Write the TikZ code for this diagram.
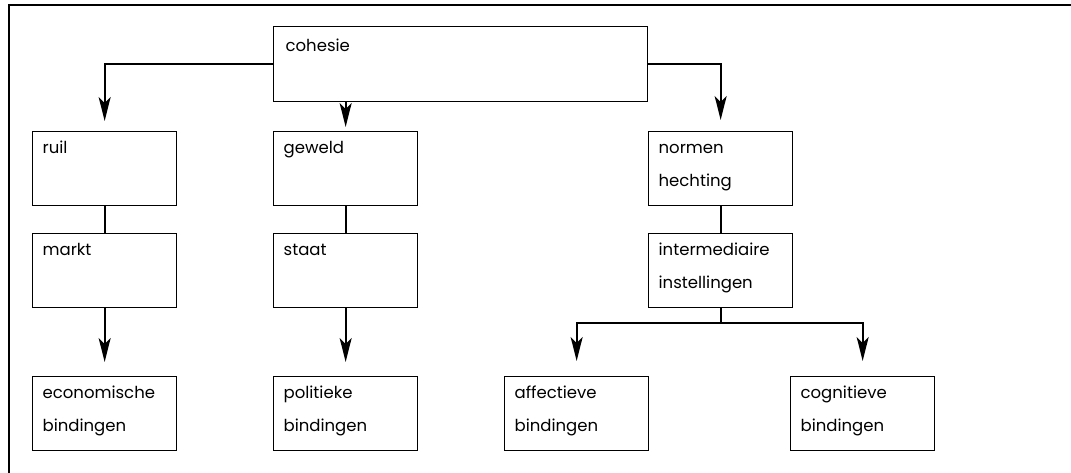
\documentclass[tikz,border=0pt]{standalone}
\usepackage{fontspec}
\setmainfont{Poppins}
\usetikzlibrary{arrows.meta}
\begin{document}
\begin{tikzpicture}
  [x=1pt,y=-1pt,
   every node/.style={draw,line width=1.3pt,anchor=north west,align=left,
     inner xsep=10pt,inner ysep=0pt,text width=124pt,
     text height=22pt,text depth=52pt,
     font=\fontsize{16.5}{33}\selectfont},
   lijn/.style={line width=2pt},
   pijl/.style={line width=2pt,-{Stealth[length=24pt,width=12pt,inset=6pt]}}]
  \useasboundingbox (0,0) rectangle (1071,473);
  \draw[lijn] (1071,5) -- (9,5) -- (9,473);

  \node (coh)[text width=350pt,inner xsep=12pt,text height=25pt,text depth=50pt] at (273,26) {cohesie};
  \node (ruil) at (32,131) {ruil};
  \node (markt) at (32,233) {markt};
  \node (econ) at (32,376) {economische\\bindingen};
  \node (geweld) at (273,131) {geweld};
  \node (staat) at (273,233) {staat};
  \node (pol) at (273,376) {politieke\\bindingen};
  \node (normen) at (648,131) {normen\\hechting};
  \node (inter) at (648,233) {intermediaire\\instellingen};
  \node (aff) at (504,376) {affectieve\\bindingen};
  \node (cog) at (790,376) {cognitieve\\bindingen};

  \draw[pijl,shorten >=10pt] (coh.west) -| (ruil.north);
  \draw[pijl,shorten >=4pt] (coh.south -| geweld.north) -- (geweld.north);
  \draw[pijl,shorten >=11pt] (coh.east) -| (normen.north);

  \foreach \from/\to in {ruil/markt,geweld/staat,normen/inter}
    \draw[lijn] (\from) -- (\to);
  \foreach \from/\to in {markt/econ,staat/pol}
    \draw[pijl,shorten >=14pt] (\from) -- (\to);

  \path (inter.south) ++(0,15) coordinate (split);
  \draw[lijn] (inter) -- (split);
  \foreach \to in {aff,cog}
    \draw[pijl,shorten >=15pt] (split) -| (\to);

\end{tikzpicture}
\end{document}
